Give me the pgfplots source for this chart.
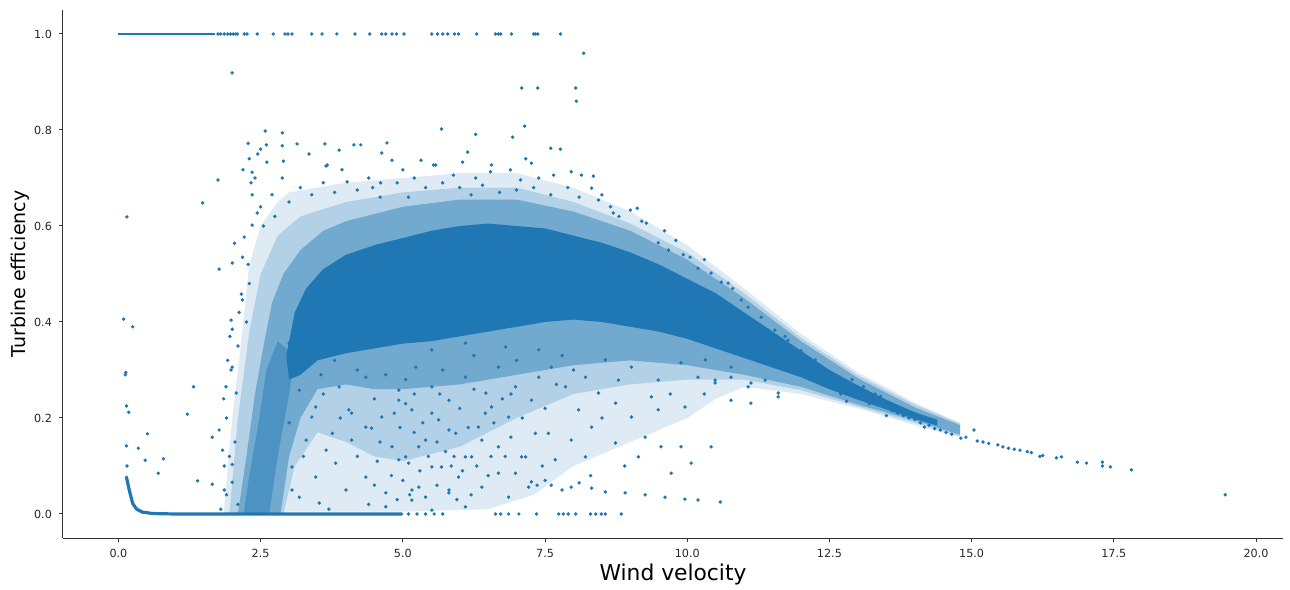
\documentclass[border=0pt]{standalone}
\usepackage{pgfplots}
\pgfplotsset{compat=1.18}
\usepackage{fontspec}
\setmainfont{DejaVu Sans}
\definecolor{mpl}{RGB}{31,119,180}

\begin{document}
\begin{tikzpicture}
\begin{axis}[
    name=ax,
    scale only axis,
    width=610pt, height=264pt,
    xmin=-0.975, xmax=20.475,
    ymin=-0.05, ymax=1.05,
    axis x line*=bottom,
    axis y line*=left,
    axis line style={black!80, line width=0.5pt},
    tick align=outside,
    major tick length=2pt,
    tick style={black!80, line width=0.5pt},
    xtick={0,2.5,5,7.5,10,12.5,15,17.5,20},
    ytick={0,0.2,0.4,0.6,0.8,1.0},
    /pgf/number format/.cd, fixed, fixed zerofill, precision=1, assume math mode=true,
    /pgfplots/.cd,
    ticklabel style={font=\fontsize{5.6}{6.7}\selectfont, text=black!85},
    xlabel={Wind velocity},
    ylabel={Turbine efficiency},
    xlabel style={at={(axis description cs:0.5,-0.0814)}, anchor=base, font=\fontsize{10.9}{13}\selectfont},
    ylabel style={at={(axis description cs:-0.0311,0.5)}, anchor=base, font=\fontsize{9.5}{11.5}\selectfont},
    clip=false,
]
% density layers of the point cloud, from sparse to dense
\addplot[fill=mpl, fill opacity=0.15, draw=none] coordinates {
(1.85,0.0)(2.0,0.2)(2.15,0.35)(2.3,0.52)(2.5,0.6)(2.8,0.65)(3.0,0.67)(4.0,0.69)(5.0,0.7)(6.0,0.71)(7.0,0.71)(8.0,0.68)(9.0,0.63)(10.0,0.56)(11.0,0.47)(12.0,0.375)(13.0,0.295)(14.0,0.232)(14.8,0.19)
(14.8,0.16)(14.0,0.185)(13.0,0.22)(12.0,0.25)(11.0,0.265)(10.5,0.24)(10.0,0.2)(9.0,0.15)(8.0,0.1)(7.3,0.04)(6.5,0.01)(5.0,0.005)(3.0,0.005)
} -- cycle;
\addplot[fill=mpl, fill opacity=0.22, draw=none] coordinates {
(1.95,0.0)(2.1,0.2)(2.3,0.38)(2.5,0.5)(2.8,0.58)(3.2,0.62)(4.0,0.65)(5.0,0.67)(6.0,0.68)(7.0,0.68)(8.0,0.65)(9.0,0.605)(10.0,0.545)(11.0,0.46)(12.0,0.367)(13.0,0.289)(14.0,0.228)(14.8,0.188)
(14.8,0.162)(14.0,0.19)(13.0,0.224)(12.0,0.258)(11.0,0.28)(10.0,0.28)(9.0,0.27)(8.0,0.25)(7.0,0.2)(6.0,0.14)(5.0,0.11)(4.5,0.12)(4.0,0.15)(3.5,0.17)(3.1,0.1)(2.9,0.0)
} -- cycle;
\addplot[fill=mpl, fill opacity=0.45, draw=none] coordinates {
(2.1,0.0)(2.25,0.12)(2.4,0.25)(2.55,0.35)(2.7,0.44)(2.9,0.5)(3.2,0.55)(3.6,0.59)(4.0,0.61)(5.0,0.64)(6.0,0.655)(7.0,0.655)(8.0,0.63)(9.0,0.59)(10.0,0.53)(11.0,0.45)(12.0,0.36)(13.0,0.283)(14.0,0.222)(14.8,0.185)
(14.8,0.165)(14.0,0.195)(13.0,0.228)(12.0,0.265)(11.0,0.29)(10.0,0.31)(9.0,0.32)(8.0,0.31)(7.0,0.29)(6.0,0.27)(5.0,0.26)(4.5,0.26)(4.0,0.27)(3.5,0.26)(3.2,0.2)(3.0,0.12)(2.85,0.0)
} -- cycle;
% denser part of the rising arm
\addplot[fill=mpl, fill opacity=0.45, draw=none] coordinates {
(2.2,0.0)(2.65,0.0)(2.8,0.12)(3.0,0.25)(3.1,0.33)(2.8,0.36)(2.6,0.3)(2.45,0.18)(2.3,0.08)
} -- cycle;
\addplot[fill=mpl, draw=none] coordinates {
(2.95,0.33)(3.1,0.42)(3.3,0.47)(3.6,0.51)(4.0,0.54)(4.5,0.56)(5.0,0.575)(5.5,0.59)(6.0,0.6)(6.5,0.605)(7.0,0.6)(7.5,0.595)(8.0,0.58)(8.5,0.565)(9.0,0.545)(9.5,0.52)(10.0,0.49)(10.5,0.46)(11.0,0.42)(11.5,0.38)(12.0,0.34)(12.5,0.3)(13.0,0.268)(13.5,0.238)(14.0,0.212)(14.4,0.196)
(14.4,0.184)(14.0,0.198)(13.5,0.218)(13.0,0.238)(12.5,0.26)(12.0,0.285)(11.5,0.305)(11.0,0.325)(10.5,0.345)(10.0,0.365)(9.5,0.38)(9.0,0.39)(8.5,0.4)(8.0,0.405)(7.5,0.4)(7.0,0.39)(6.5,0.38)(6.0,0.37)(5.5,0.36)(5.0,0.355)(4.5,0.345)(4.0,0.335)(3.5,0.32)(3.2,0.29)(3.0,0.28)
} -- cycle;
% zero row and efficiency 1 row
\addplot[mpl, line width=1.6pt, line join=round, line cap=round] coordinates {
(0.14,0.077)(0.19,0.05)(0.25,0.022)(0.32,0.01)(0.42,0.004)(0.6,0.001)(1.0,0.0)(4.98,0.0)
};
\addplot[mpl, line width=1.2pt] coordinates {(0.0,1.0)(1.7,1.0)};
% scattered points
\addplot[color=mpl, only marks, mark=*, mark size=0.65pt, mark options={draw=none, fill=mpl}] coordinates {
(1.75,1)(1.8,1)(1.86,1)(1.92,1)(1.97,1)(2.02,1)(2.06,1)(2.09,1)
(2.21,1)(2.26,1)(2.44,1)(2.72,1)(2.93,1)(2.98,1)(3.05,1)(3.40,1)(3.58,1)(3.84,1)(4.16,1)(4.42,1)(4.63,1)(4.70,1)(4.81,1)(4.89,1)(5.02,1)
(5.51,1)(5.61,1)(5.70,1)(5.79,1)(5.91,1)(5.98,1)(6.30,1)(6.63,1)(6.68,1)(6.72,1)(6.91,1)(7.30,1)(7.33,1)(7.37,1)(7.77,1)
(8.18,0.96)(7.09,0.8875)(7.37,0.8875)(8.04,0.8875)(8.05,0.86)(2.0,0.919)
(2.28,0.772)(2.58,0.798)(2.88,0.794)(2.6,0.769)(2.88,0.767)(3.14,0.771)(3.63,0.771)(3.88,0.758)(4.14,0.769)(4.26,0.769)(4.72,0.773)
(2.61,0.733)(2.9,0.735)(3.35,0.75)(3.93,0.717)(3.67,0.727)(4.63,0.752)(4.81,0.737)(5.32,0.737)(5.58,0.727)(5.68,0.802)
(2.35,0.712)(2.33,0.69)(2.88,0.7)(3.6,0.69)(3.65,0.725)(4.02,0.692)(4.61,0.69)(5.0,0.717)(4.2,0.675)(4.47,0.68)(2.19,0.717)(2.5,0.76)
(6.28,0.791)(6.93,0.785)(7.14,0.808)(7.6,0.762)(7.77,0.76)(6.14,0.754)(7.16,0.74)(6.05,0.733)(6.56,0.727)(6.89,0.717)(7.26,0.731)
(5.54,0.727)(5.89,0.706)(6.28,0.7)(6.54,0.713)(7.07,0.696)(7.39,0.7)(7.65,0.706)(7.96,0.713)(8.14,0.706)(8.35,0.704)(8.32,0.679)
(8.44,0.654)(8.65,0.64)(8.7,0.627)(9.0,0.633)(9.12,0.637)(9.28,0.606)(9.49,0.565)(9.67,0.55)(9.93,0.54)(10.05,0.535)(10.19,0.512)
(10.42,0.502)(10.6,0.483)(10.95,0.446)(11.07,0.431)(11.3,0.41)(11.54,0.383)(11.77,0.362)(11.95,0.335)(12.18,0.315)(12.35,0.294)
(12.6,0.285)(12.82,0.265)(10.72,0.481)(11.42,0.383)(11.72,0.37)(12.0,0.34)(12.25,0.321)(12.53,0.294)(12.88,0.268)(13.23,0.248)
(3.2,0.68)(3.4,0.665)(3.8,0.67)(4.4,0.7)(4.9,0.69)(5.2,0.7)(5.4,0.68)(5.7,0.69)(6.0,0.68)(6.4,0.685)(6.7,0.67)(7.0,0.675)
(7.3,0.68)(7.6,0.665)(7.9,0.68)(8.1,0.66)(8.5,0.665)(8.8,0.62)(9.2,0.61)(9.6,0.59)(9.8,0.57)(10.3,0.53)(10.8,0.47)(6.2,0.665)
(5.1,0.66)(4.6,0.66)(3.0,0.65)(2.75,0.62)(2.55,0.6)(2.3,0.74)(2.45,0.75)(2.4,0.7)
(0.09,0.406)(0.25,0.39)(0.12,0.29)(0.13,0.295)(0.14,0.225)(0.18,0.212)(0.14,0.142)(0.35,0.137)(0.51,0.167)(0.47,0.112)
(0.79,0.115)(0.70,0.085)(1.21,0.208)(1.32,0.265)(1.39,0.069)(0.15,0.1)(0.15,0.619)(1.48,0.648)(1.75,0.696)(1.77,0.51)
(2.21,0.577)(2.04,0.564)(2.0,0.523)(2.18,0.535)(2.35,0.602)(2.44,0.627)(2.5,0.64)(2.7,0.665)(2.35,0.665)(1.98,0.404)
(2.0,0.385)(1.96,0.37)(2.18,0.446)(2.16,0.458)(1.98,0.3)(1.89,0.265)(1.85,0.24)(2.0,0.306)(1.65,0.16)(1.77,0.175)
(1.83,0.133)(1.86,0.1)(1.86,0.05)(1.9,0.04)(1.65,0.062)(2.0,0.066)(2.0,0.103)(1.9,0.2)(2.07,0.252)(2.1,0.35)(2.25,0.4)
(2.3,0.48)(2.12,0.42)(2.28,0.52)(1.92,0.32)(2.05,0.15)(1.95,0.12)(2.1,0.02)(1.8,0.01)
(3.18,0.258)(3.47,0.223)(3.0,0.19)(3.3,0.154)(3.65,0.133)(3.05,0.098)(3.47,0.077)(3.82,0.106)(3.18,0.035)(3.53,0.023)
(4.0,0.05)(4.1,0.154)(4.35,0.181)(4.05,0.217)(4.63,0.202)(4.93,0.258)(4.5,0.24)(4.81,0.14)(5.1,0.106)(4.35,0.077)
(4.7,0.044)(5.12,0.04)(3.88,0.265)(4.35,0.285)(3.56,0.29)(3.0,0.356)(3.8,0.32)(3.4,0.202)(3.76,0.168)(4.1,0.21)
(4.45,0.179)(3.1,0.29)(3.3,0.31)(3.6,0.25)(3.9,0.2)(4.2,0.12)(4.55,0.11)(4.4,0.02)(3.7,0.01)(3.25,0.12)(3.05,0.05)
(4.8,0.08)(4.95,0.18)(4.7,0.29)(4.2,0.3)
(4.93,0.237)(5.2,0.25)(5.51,0.21)(5.81,0.175)(5.28,0.14)(4.93,0.113)(5.51,0.098)(6.1,0.119)(6.39,0.154)(5.16,0.05)
(5.81,0.05)(5.4,0.035)(4.7,0.015)(6.68,0.085)(7.21,0.056)(7.36,0.06)(7.09,0.119)(7.33,0.168)
(5.23,0.306)(5.51,0.265)(5.16,0.217)(5.81,0.237)(6.1,0.285)(6.46,0.252)(6.68,0.306)(6.98,0.265)(7.26,0.237)(7.39,0.285)
(6.86,0.202)(6.33,0.181)(5.93,0.168)(5.4,0.154)(5.05,0.119)(5.68,0.098)(6.21,0.119)(6.68,0.14)(7.16,0.119)(7.56,0.168)
(7.68,0.113)(5.28,0.056)(5.81,0.044)(6.39,0.056)(6.86,0.035)(6.1,0.015)(5.51,0.008)(5.16,0.029)(6.1,0.356)(5.51,0.342)
(6.81,0.348)(7.39,0.342)(5.1,0.363)(6.56,0.223)(5.63,0.196)(5.98,0.077)(6.98,0.085)
(5.35,0.19)(5.7,0.3)(6.0,0.22)(6.25,0.33)(6.6,0.19)(6.8,0.12)(7.0,0.32)(7.5,0.22)(7.7,0.27)(7.8,0.33)(5.05,0.28)
(5.9,0.12)(6.5,0.08)(6.2,0.04)(5.6,0.15)(6.9,0.16)(7.1,0.2)(7.45,0.1)
(5.0,0.07)(5.3,0.09)(5.6,0.06)(5.85,0.1)(6.05,0.09)(6.3,0.1)(6.55,0.12)(5.2,0.17)(5.45,0.12)(5.75,0.13)(6.15,0.18)
(6.45,0.21)(6.75,0.24)(4.6,0.15)(4.85,0.21)(5.05,0.23)(5.65,0.25)(6.25,0.26)(6.9,0.25)(4.5,0.06)(4.9,0.03)(5.95,0.03)
(8.56,0.321)(9.02,0.306)(9.49,0.279)(9.89,0.315)(10.19,0.285)(10.49,0.273)(10.77,0.237)(11.07,0.265)(11.37,0.279)(11.6,0.244)
(9.96,0.223)(9.49,0.217)(9.02,0.202)(8.74,0.231)(9.26,0.16)(9.54,0.14)(9.89,0.14)(10.42,0.14)(10.07,0.106)(9.72,0.085)
(8.74,0.148)(9.14,0.119)(8.21,0.119)(7.96,0.154)(8.32,0.181)(8.09,0.217)(8.44,0.252)(7.86,0.265)(7.61,0.306)(8.21,0.285)
(8.79,0.279)(9.37,0.244)(10.77,0.306)(11.12,0.231)(10.49,0.279)(10.77,0.285)(11.12,0.273)(11.6,0.252)(10.95,0.335)(10.32,0.321)
(8.0,0.3)(8.5,0.2)(9.7,0.25)(10.3,0.25)(8.3,0.08)(8.9,0.1)
(7.26,0.067)(7.61,0.06)(7.96,0.056)(8.32,0.054)(8.56,0.046)(8.91,0.044)(9.26,0.04)(9.61,0.035)(9.96,0.031)(10.19,0.029)
(10.58,0.025)(7.5,0.07)(7.8,0.05)(8.1,0.065)
(5.1,0)(5.25,0)(5.4,0)(5.55,0)(5.7,0)(6.63,0)(6.72,0)(6.86,0)(7.04,0)(7.35,0)(7.74,0)(7.82,0)(7.91,0)(8.04,0)(8.30,0)
(8.39,0)(8.49,0)(8.56,0)(8.84,0)
(13.1,0.265)(13.3,0.25)(13.5,0.205)(13.2,0.23)(13.4,0.245)(12.9,0.28)(12.7,0.25)(12.4,0.27)(12.2,0.3)(12.0,0.31)(12.8,0.235)
(13.6,0.215)(13.7,0.21)(13.8,0.205)(13.9,0.2)(14.0,0.197)(14.1,0.19)(14.17,0.181)(14.25,0.185)(14.35,0.178)(14.45,0.175)
(14.55,0.17)(14.65,0.166)(14.81,0.158)(14.9,0.16)(15.04,0.175)(15.1,0.152)(15.2,0.15)(15.3,0.147)(15.46,0.144)(15.55,0.14)
(15.65,0.137)(15.75,0.135)(15.85,0.133)(15.98,0.13)(16.05,0.128)(16.2,0.12)(16.25,0.122)(16.49,0.117)(16.58,0.119)
(16.86,0.108)(17.02,0.106)(17.3,0.108)(17.3,0.1)(17.44,0.098)(17.81,0.092)(19.46,0.04)
};
\end{axis}
\pgfresetboundingbox
\path ([shift={(-31.5pt,-25.5pt)}]ax.south west) rectangle ([shift={(3.5pt,5pt)}]ax.north east);
\end{tikzpicture}
\end{document}
